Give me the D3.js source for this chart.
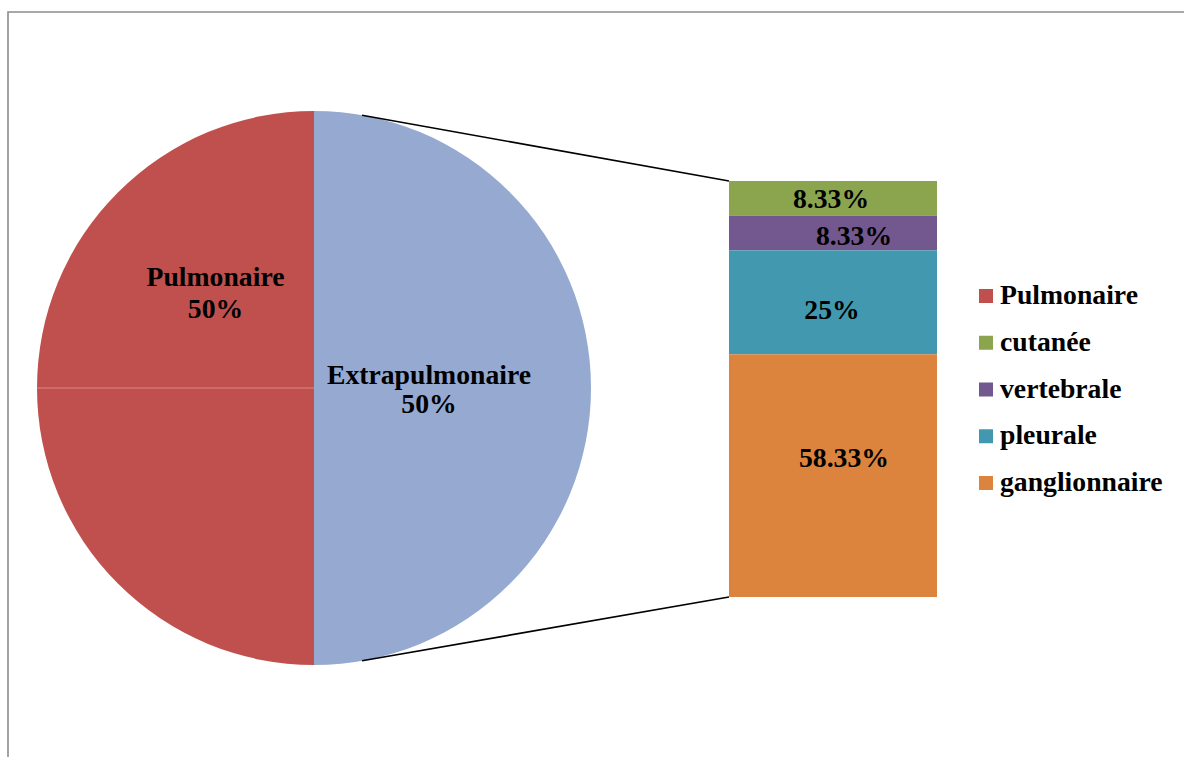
<!DOCTYPE html>
<html>
<head>
<meta charset="utf-8">
<script src="https://cdn.jsdelivr.net/npm/d3@7"></script>
<style>
  html, body { margin: 0; padding: 0; background: #fff; }
  svg { display: block; }
  text { font-family: "Liberation Serif", "Times New Roman", serif; font-weight: bold; fill: #000; }
</style>
</head>
<body>
<svg id="chart" width="1184" height="757"></svg>
<script>
// ---- data ----
const pieCategories = ["Pulmonaire", "Extrapulmonaire"];
const pieValues = [50, 50];
const pieLabels = ["50%", "50%"];
const barCategories = ["cutanée", "vertebrale", "pleurale", "ganglionnaire"];
const barValues = [8.33, 8.33, 25, 58.33];
const barLabels = ["8.33%", "8.33%", "25%", "58.33%"];
const legendItems = ["Pulmonaire", "cutanée", "vertebrale", "pleurale", "ganglionnaire"];

// ---- styles / layout ----
const pieColors = ["#c0504d", "#95a9d1"];
const barColors = ["#8ba54e", "#72588e", "#4298af", "#dc833d"];
const legendColors = ["#c0504d", "#8ba54e", "#72588e", "#4298af", "#dc833d"];
const cx = 314, cy = 388, R = 277;
const barX0 = 729, barX1 = 937, barTop = 181, barBottom = 597;
const fontSize = 27.7;

const svg = d3.select("#chart");

// frame
svg.append("path")
  .attr("d", "M8,1200 L8,12 L1200,12")
  .attr("fill", "none").attr("stroke", "#8c8c8c").attr("stroke-width", 1.6);

// ---- pie ----
const pie = d3.pie().sort(null).startAngle(Math.PI).endAngle(3 * Math.PI);
const arcs = pie(pieValues);
const arc = d3.arc().innerRadius(0).outerRadius(R);
const g = svg.append("g").attr("transform", `translate(${cx},${cy})`);
g.selectAll("path.slice").data(arcs).enter().append("path")
  .attr("class", "slice")
  .attr("d", arc)
  .attr("fill", (d, i) => pieColors[i]);

// faint separator inside the Pulmonaire half
g.append("line")
  .attr("x1", -R).attr("y1", 0).attr("x2", 0).attr("y2", 0)
  .attr("stroke", "#d98784").attr("stroke-width", 1);

// pie labels
const labelOffsets = [[-98.5, -102], [115, -4]];
const labelLineGap = [32, 29];
arcs.forEach((d, i) => {
  const t = g.append("text").attr("text-anchor", "middle")
    .attr("font-size", fontSize)
    .attr("x", labelOffsets[i][0]).attr("y", labelOffsets[i][1]);
  t.append("tspan").attr("x", labelOffsets[i][0]).text(pieCategories[i]);
  t.append("tspan").attr("x", labelOffsets[i][0]).attr("dy", labelLineGap[i]).text(pieLabels[i]);
});

// ---- bar ----
const y = d3.scaleLinear().domain([0, d3.sum(barValues)]).range([barTop, barBottom]);
let acc = 0;
const stacked = barValues.map((v, i) => { const s = { y0: acc, y1: acc + v, i }; acc += v; return s; });

// connector lines
const connAngle = 10 * Math.PI / 180;
const topPt = [cx + R * Math.sin(connAngle), cy - R * Math.cos(connAngle)];
const botPt = [cx + R * Math.sin(connAngle), cy + R * Math.cos(connAngle)];
svg.append("line").attr("x1", topPt[0]).attr("y1", topPt[1]).attr("x2", barX0).attr("y2", y(0))
  .attr("stroke", "#000").attr("stroke-width", 1.6);
svg.append("line").attr("x1", botPt[0]).attr("y1", botPt[1]).attr("x2", barX0).attr("y2", y(d3.sum(barValues)))
  .attr("stroke", "#000").attr("stroke-width", 1.6);

svg.selectAll("rect.seg").data(stacked).enter().append("rect")
  .attr("class", "seg")
  .attr("x", barX0).attr("width", barX1 - barX0)
  .attr("y", d => y(d.y0)).attr("height", d => y(d.y1) - y(d.y0))
  .attr("fill", d => barColors[d.i]);

const barLabelDx = [-2, 21, -1, 11];
const barLabelBaseline = [10, 12, 17, -9];
svg.selectAll("text.seglab").data(stacked).enter().append("text")
  .attr("class", "seglab")
  .attr("text-anchor", "middle").attr("font-size", fontSize)
  .attr("x", d => (barX0 + barX1) / 2 + barLabelDx[d.i])
  .attr("y", d => (y(d.y0) + y(d.y1)) / 2 + barLabelBaseline[d.i])
  .text(d => barLabels[d.i]);

// ---- legend ----
const legY = d3.scalePoint().domain(legendItems).range([296, 483]);
const leg = svg.selectAll("g.leg").data(legendItems).enter().append("g").attr("class", "leg")
  .attr("transform", d => `translate(979,${legY(d)})`);
leg.append("rect").attr("x", 0).attr("y", -7).attr("width", 14).attr("height", 14)
  .attr("fill", (d, i) => legendColors[i]);
leg.append("text").attr("x", 21).attr("y", 8).attr("font-size", fontSize).text(d => d);
</script>
</body>
</html>
